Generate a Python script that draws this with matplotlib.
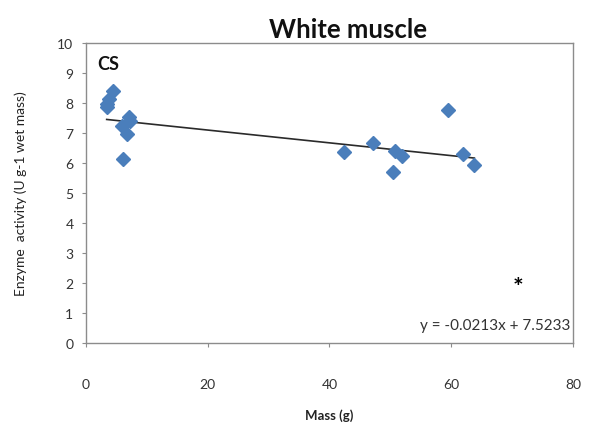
import matplotlib.pyplot as plt
import numpy as np

# CS activity in white muscle vs body mass
mass = [3.4, 3.7, 4.5, 3.5, 7.0, 7.3, 5.9, 6.7, 6.1,
        42.4, 47.2, 50.8, 51.9, 50.4, 59.4, 62.0, 63.8]
activity = [7.86, 8.13, 8.41, 7.95, 7.52, 7.40, 7.24, 6.97, 6.13,
            6.36, 6.67, 6.41, 6.22, 5.71, 7.77, 6.30, 5.94]

slope = -0.0213
intercept = 7.5233

plt.rcParams['font.family'] = ['Lato', 'DejaVu Sans']

fig = plt.figure(figsize=(5.95, 4.35), dpi=100)
ax = fig.add_axes([0.1445, 0.209, 0.8185, 0.690])

ax.plot(mass, activity, 'D', color='#4a7ebb', ms=7, mec='#4a7ebb', zorder=3)

xfit = np.array([min(mass), max(mass)])
ax.plot(xfit, slope * xfit + intercept, color='#2a2a2a', lw=1.2, zorder=2)

ax.set_xlim(0, 80)
ax.set_ylim(0, 10)
ax.set_xticks([0, 20, 40, 60, 80])
ax.set_yticks(range(0, 11))

for s in ax.spines.values():
    s.set_color('#8c8c8c')
    s.set_linewidth(1.0)
ax.tick_params(colors='#8c8c8c', labelcolor='#333333', labelsize=10, length=3)
ax.tick_params(axis='x', pad=22)
ax.tick_params(axis='y', pad=6)

ax.set_xlabel('Mass (g)', fontsize=9.5, fontweight='bold', color='#222222', labelpad=13)
ax.set_ylabel('Enzyme  activity (U g-1 wet mass)', fontsize=10, color='#222222', labelpad=22)

fig.text(0.585, 0.93, 'White muscle', ha='center', va='center',
         fontsize=18.5, fontweight='bold', color='#111111')

ax.text(1.9, 9.3, 'CS', fontsize=13, fontweight='bold', color='#111111', va='center')
ax.text(70.9, 1.85, '*', fontsize=18, fontweight='bold', color='black', ha='center', va='center')
ax.text(79.5, 0.6, 'y = -0.0213x + 7.5233', fontsize=11, color='#333333', ha='right', va='center')

fig.savefig('out.png', dpi=100)
